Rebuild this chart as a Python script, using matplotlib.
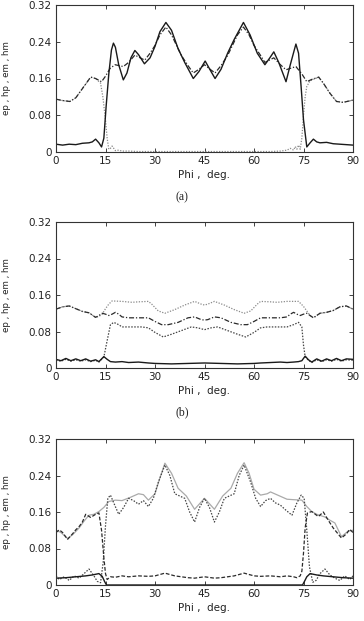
import matplotlib
matplotlib.use("Agg")
import matplotlib.pyplot as plt

# ---------------- Panel (a) ----------------
a_ep_phi = [0, 2, 4, 6, 8, 10, 11, 12, 13, 13.8, 14.5, 15.2, 16, 16.8, 17.4, 18, 19, 20.4, 21.5, 22.7, 23.9, 25, 26.8, 28.5, 30, 31.5, 33.3, 35, 37, 39, 41.6, 43.3, 45.2, 47, 48.2, 50, 52, 54, 56.8, 58.8, 61, 63.3, 64.8, 66, 67.5, 69.7, 71, 72.7, 73.5, 74.3, 75, 76, 77, 78, 79, 80, 82, 84, 86, 88, 90]
a_ep = [0.017, 0.015, 0.017, 0.016, 0.019, 0.020, 0.022, 0.028, 0.020, 0.011, 0.030, 0.100, 0.170, 0.222, 0.237, 0.228, 0.190, 0.157, 0.172, 0.205, 0.221, 0.212, 0.192, 0.205, 0.230, 0.262, 0.282, 0.265, 0.225, 0.195, 0.160, 0.175, 0.198, 0.175, 0.160, 0.180, 0.215, 0.245, 0.282, 0.255, 0.215, 0.190, 0.205, 0.218, 0.195, 0.153, 0.190, 0.235, 0.215, 0.140, 0.070, 0.011, 0.020, 0.028, 0.022, 0.020, 0.021, 0.018, 0.017, 0.016, 0.015]

a_hm_phi = [0, 2, 4.2, 6, 8, 10.5, 12, 13.8, 15, 16.4, 17.9, 20.4, 22, 23.9, 25.5, 26.9, 28.5, 30, 31.5, 33.3, 35, 38, 40, 41.6, 43.3, 45, 46.7, 48.2, 50, 52, 55, 56.8, 58.5, 60, 62, 63.3, 66, 68, 69.7, 72.7, 74.5, 76, 77.5, 79.6, 81, 83, 85, 87, 90]
a_hm = [0.115, 0.112, 0.110, 0.118, 0.138, 0.163, 0.160, 0.153, 0.165, 0.182, 0.190, 0.186, 0.195, 0.211, 0.205, 0.200, 0.215, 0.232, 0.255, 0.272, 0.255, 0.210, 0.188, 0.172, 0.180, 0.190, 0.180, 0.172, 0.188, 0.210, 0.255, 0.272, 0.255, 0.232, 0.210, 0.195, 0.205, 0.190, 0.179, 0.186, 0.170, 0.153, 0.158, 0.163, 0.150, 0.128, 0.110, 0.108, 0.113]

a_em_phi = [0, 2, 4.2, 6, 8, 10.5, 12, 13.5, 14.2, 15, 15.5, 16, 16.5, 17, 17.5, 18, 19, 20, 22, 25, 30, 40, 50, 60, 65, 68, 70, 71, 72, 72.5, 73, 73.5, 74, 74.5, 75, 75.5, 76, 77, 79.6, 81, 83, 85, 87, 90]
a_em = [0.115, 0.112, 0.110, 0.118, 0.138, 0.163, 0.160, 0.150, 0.120, 0.070, 0.030, 0.006, 0.008, 0.013, 0.008, 0.003, 0.004, 0.002, 0.002, 0.001, 0.001, 0.001, 0.001, 0.001, 0.001, 0.002, 0.004, 0.008, 0.004, 0.012, 0.006, 0.015, 0.006, 0.030, 0.080, 0.120, 0.143, 0.155, 0.163, 0.150, 0.128, 0.110, 0.108, 0.113]

# ---------------- Panel (b) ----------------
b_ep_phi = [0, 1.5, 3, 4.5, 6, 7.5, 9, 10.5, 12, 13, 14.5, 15.5, 16.5, 18, 20, 22, 25, 28, 30, 35, 40, 45, 50, 55, 60, 62, 65, 68, 70, 72, 73.5, 74.5, 75.5, 76.5, 77.5, 79, 80.5, 82, 83.5, 85, 86.5, 88, 90]
b_ep = [0.019, 0.016, 0.021, 0.016, 0.020, 0.016, 0.020, 0.015, 0.018, 0.014, 0.025, 0.019, 0.014, 0.013, 0.014, 0.012, 0.013, 0.011, 0.010, 0.009, 0.010, 0.011, 0.010, 0.009, 0.010, 0.011, 0.012, 0.013, 0.012, 0.013, 0.014, 0.016, 0.026, 0.018, 0.013, 0.020, 0.015, 0.020, 0.016, 0.021, 0.016, 0.020, 0.019]

b_hm_phi = [0, 2, 4, 6, 8, 10, 11, 12, 13, 14, 15, 16, 17, 18, 19, 20, 22, 25, 28, 30, 32, 34, 37, 40, 42, 44, 45, 46, 48, 50, 53, 56, 58, 60, 62, 65, 68, 70, 71, 72, 73, 74, 75, 76, 77, 78, 79, 80, 82, 84, 86, 88, 90]
b_hm = [0.129, 0.134, 0.136, 0.130, 0.124, 0.121, 0.116, 0.111, 0.115, 0.120, 0.118, 0.115, 0.118, 0.122, 0.118, 0.112, 0.110, 0.110, 0.110, 0.102, 0.095, 0.095, 0.100, 0.110, 0.112, 0.106, 0.105, 0.106, 0.112, 0.110, 0.100, 0.095, 0.095, 0.102, 0.110, 0.110, 0.110, 0.112, 0.118, 0.122, 0.118, 0.115, 0.118, 0.120, 0.115, 0.110, 0.115, 0.120, 0.122, 0.126, 0.134, 0.136, 0.129]

b_em_phi = [0, 2, 4, 6, 8, 10, 11, 12, 13, 14, 15, 16, 17, 20, 23, 25, 28, 29, 31, 33, 36, 39, 42, 44, 45, 46, 48, 51, 54, 57, 59, 61, 62, 65, 67, 70, 73.5, 75, 76, 77, 78, 79, 80, 82, 84, 86, 88, 90]
b_em = [0.129, 0.134, 0.136, 0.130, 0.124, 0.121, 0.116, 0.111, 0.113, 0.118, 0.130, 0.140, 0.147, 0.146, 0.144, 0.145, 0.146, 0.140, 0.125, 0.120, 0.128, 0.138, 0.146, 0.140, 0.138, 0.140, 0.146, 0.138, 0.128, 0.120, 0.125, 0.140, 0.146, 0.145, 0.144, 0.146, 0.146, 0.135, 0.125, 0.115, 0.110, 0.115, 0.120, 0.122, 0.126, 0.134, 0.136, 0.129]

b_hp_phi = [0, 1.5, 3, 4.5, 6, 7.5, 9, 10.5, 12, 13, 14.5, 15.5, 16.5, 17.5, 19, 20, 23, 26, 28, 30, 32.5, 35, 38, 41, 43, 45, 47, 49, 52, 55, 57.5, 60, 62, 64, 67, 70, 72, 73.5, 74.5, 75, 75.5, 76.5, 77.5, 79, 80.5, 82, 83.5, 85, 86.5, 88, 90]
b_hp = [0.017, 0.015, 0.019, 0.015, 0.018, 0.015, 0.018, 0.014, 0.017, 0.013, 0.024, 0.060, 0.095, 0.100, 0.095, 0.090, 0.090, 0.090, 0.088, 0.078, 0.068, 0.074, 0.082, 0.090, 0.088, 0.084, 0.088, 0.090, 0.082, 0.074, 0.068, 0.078, 0.088, 0.090, 0.090, 0.090, 0.095, 0.100, 0.090, 0.050, 0.025, 0.017, 0.012, 0.018, 0.014, 0.018, 0.015, 0.019, 0.015, 0.018, 0.017]

# ---------------- Panel (c) ----------------
c_hm_phi = [0, 1.5, 3.5, 5, 7, 8.5, 10, 11.5, 13, 14.5, 16, 18, 20, 22.5, 25, 26.5, 28, 30, 31.5, 33, 35, 37, 39.5, 42, 43.5, 45, 46.5, 48, 50.5, 53, 55, 57, 58.5, 60, 62, 64, 65, 67.5, 70, 72, 74.5, 76, 77.5, 79, 81.5, 83, 84.5, 86.5, 88.5, 90]
c_hm = [0.120, 0.115, 0.102, 0.110, 0.125, 0.140, 0.153, 0.155, 0.161, 0.170, 0.183, 0.186, 0.185, 0.192, 0.200, 0.198, 0.186, 0.200, 0.235, 0.267, 0.245, 0.212, 0.195, 0.166, 0.178, 0.190, 0.178, 0.166, 0.195, 0.212, 0.245, 0.268, 0.245, 0.210, 0.197, 0.200, 0.204, 0.196, 0.188, 0.187, 0.186, 0.172, 0.161, 0.155, 0.149, 0.142, 0.136, 0.106, 0.118, 0.120]

c_hp_phi = [0, 1, 2, 3.5, 5, 6, 7, 8, 9, 10.5, 12, 13, 13.8, 14.5, 15, 15.5, 16.5, 18, 20, 22, 25, 28, 30, 33, 36, 40, 42, 45, 48, 50, 54, 57, 60, 62, 65, 68, 70, 72, 73, 74, 74.5, 75, 75.5, 76.2, 77.5, 79.5, 81, 82.5, 84, 86.5, 88, 89, 90]
c_hp = [0.115, 0.121, 0.115, 0.100, 0.112, 0.121, 0.128, 0.138, 0.155, 0.148, 0.155, 0.158, 0.120, 0.060, 0.025, 0.012, 0.018, 0.017, 0.020, 0.018, 0.020, 0.019, 0.020, 0.026, 0.020, 0.016, 0.015, 0.018, 0.015, 0.016, 0.020, 0.026, 0.020, 0.019, 0.020, 0.018, 0.020, 0.018, 0.016, 0.020, 0.030, 0.070, 0.125, 0.158, 0.161, 0.150, 0.160, 0.142, 0.125, 0.103, 0.112, 0.122, 0.115]

c_ep_phi = [0, 3, 6, 9, 11, 13, 14, 14.7, 15.3, 20, 30, 45, 60, 70, 74.7, 75.3, 76, 77, 79, 81, 84, 87, 90]
c_ep = [0.015, 0.016, 0.018, 0.020, 0.022, 0.025, 0.019, 0.008, 0.0, 0.0, 0.0, 0.0, 0.0, 0.0, 0.0, 0.008, 0.018, 0.025, 0.022, 0.020, 0.018, 0.016, 0.015]

c_em_phi = [0, 1, 2.5, 4, 5.5, 7, 8.5, 10, 11.5, 12.5, 13.5, 14.3, 15, 15.7, 16.5, 17.5, 19, 20.5, 22, 23.5, 25, 26.5, 28, 29.5, 31, 33, 34.5, 36, 37.5, 39, 40.5, 42, 43.5, 45, 46.5, 48, 49.5, 51, 52.5, 54, 55.5, 57, 59, 60.5, 62, 63.5, 65, 66.5, 68, 69.5, 71.5, 73, 74.3, 75.2, 76, 76.8, 77.8, 78.8, 80, 81.5, 83, 84.5, 86, 87.5, 89, 90]
c_em = [0.020, 0.012, 0.018, 0.010, 0.020, 0.015, 0.025, 0.035, 0.020, 0.008, 0.005, 0.050, 0.130, 0.190, 0.197, 0.180, 0.155, 0.170, 0.190, 0.185, 0.177, 0.185, 0.172, 0.190, 0.225, 0.263, 0.240, 0.200, 0.195, 0.190, 0.160, 0.138, 0.170, 0.190, 0.170, 0.138, 0.160, 0.190, 0.195, 0.200, 0.240, 0.263, 0.225, 0.190, 0.172, 0.185, 0.190, 0.180, 0.175, 0.165, 0.153, 0.180, 0.197, 0.190, 0.120, 0.040, 0.006, 0.010, 0.025, 0.035, 0.022, 0.015, 0.010, 0.020, 0.012, 0.020]

x_ticks = [0, 15, 30, 45, 60, 75, 90]
y_ticks = [0, 0.08, 0.16, 0.24, 0.32]
y_tick_labels = ["0", "0.08", "0.16", "0.24", "0.32"]
x_label = "Phi ,  deg."
y_label = "ep , hp , em , hm"

W, H = 364, 621
fig = plt.figure(figsize=(W / 100, H / 100), dpi=100)
fig.patch.set_facecolor("white")

DARK = "#1a1a1a"
GREY = "#8a8a8a"
solid = dict(color=DARK, lw=1.0, ls="-")
dashdot = dict(color="#2a2a2a", lw=0.9, ls=(0, (4, 1.5, 1, 1.5)))
dashed = dict(color="#2a2a2a", lw=0.9, ls=(0, (3, 1.5)))
dotted = dict(color=GREY, lw=0.9, ls=(0, (1, 1.2)))
dotted_dark = dict(color="#444444", lw=0.9, ls=(0, (1.2, 1.2)))
grey_solid = dict(color="#aaaaaa", lw=0.9, ls="-")

panels = [
    (5, 152, [(a_em_phi, a_em, dotted), (a_hm_phi, a_hm, dashdot), (a_ep_phi, a_ep, solid)], "(a)", 197),
    (222, 368, [(b_em_phi, b_em, dotted), (b_hp_phi, b_hp, dotted_dark), (b_hm_phi, b_hm, dashdot), (b_ep_phi, b_ep, solid)], "(b)", 412),
    (439, 585, [(c_hm_phi, c_hm, grey_solid), (c_em_phi, c_em, dotted_dark), (c_hp_phi, c_hp, dashed), (c_ep_phi, c_ep, solid)], None, None),
]

left, right = 56, 353
for top, bottom, curves, tag, tag_y in panels:
    ax = fig.add_axes([left / W, (H - bottom) / H, (right - left) / W, (bottom - top) / H])
    for px, py, st in curves:
        ax.plot(px, py, **st)
    ax.set_xlim(0, 90)
    ax.set_ylim(0, 0.32)
    ax.set_xticks(x_ticks)
    ax.set_xticklabels([str(t) for t in x_ticks])
    ax.set_yticks(y_ticks)
    ax.set_yticklabels(y_tick_labels)
    ax.tick_params(direction="in", top=True, right=True, length=3, width=0.6,
                   labelsize=7.5, pad=3, colors="#222222")
    for s in ax.spines.values():
        s.set_linewidth(0.8)
        s.set_color("#333333")
    cy = (H - (top + bottom) / 2) / H
    fig.text(7 / W, cy, y_label, rotation=90, ha="center", va="center",
             fontsize=6.3, color="#222222")
    fig.text((left + right) / 2 / W, (H - (bottom + 23)) / H, x_label,
             ha="center", va="center", fontsize=7.5, color="#222222")
    if tag:
        fig.text(182 / W, (H - tag_y) / H, tag, ha="center", va="center",
                 fontsize=8.5, family="Liberation Serif", color="#222222")

fig.savefig("out.png", dpi=100, facecolor="white")
